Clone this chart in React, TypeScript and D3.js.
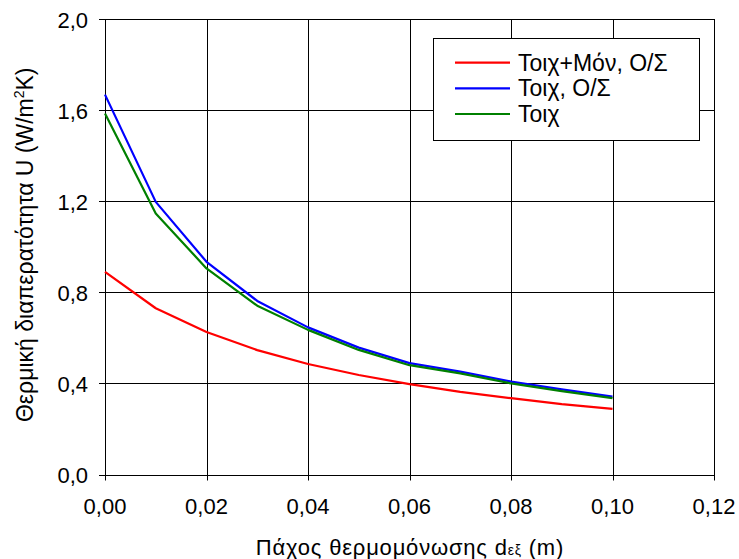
import React from "react";
import * as d3 from "d3";

const thickness = [0, 0.01, 0.02, 0.03, 0.04, 0.05, 0.06, 0.07, 0.08, 0.09, 0.1];
const seriesNames = ["Τοιχ+Μόν, Ο/Σ", "Τοιχ, Ο/Σ", "Τοιχ"];
const seriesColors = ["#ff0000", "#0000ff", "#008000"];
const uWallSlab = [0.89, 0.73, 0.626, 0.546, 0.485, 0.437, 0.397, 0.363, 0.335, 0.309, 0.288];
const uWallOS = [1.668, 1.197, 0.934, 0.762, 0.646, 0.557, 0.489, 0.452, 0.408, 0.374, 0.342];
const uWall = [1.585, 1.146, 0.905, 0.741, 0.635, 0.547, 0.48, 0.444, 0.4, 0.366, 0.335];
const xTicks = [0, 0.02, 0.04, 0.06, 0.08, 0.1, 0.12];
const yTicks = [0, 0.4, 0.8, 1.2, 1.6, 2.0];

const W = 739;
const H = 559;
const FONT = "'Liberation Sans', Arial, sans-serif";

export default function App() {
  const left = 105, right = 714, top = 19, bottom = 474.5;
  const x = d3.scaleLinear().domain([0, 0.12]).range([left, right]);
  const y = d3.scaleLinear().domain([0, 2.0]).range([bottom, top]);
  const seriesData = [uWallSlab, uWallOS, uWall];
  const line = d3
    .line<[number, number]>()
    .x((d) => x(d[0]))
    .y((d) => y(d[1]));
  const fx = (v: number) => d3.format(".2f")(v).replace(".", ",");
  const fy = (v: number) => d3.format(".1f")(v).replace(".", ",");

  const lgX = 433.5, lgY = 38.5, lgW = 266, lgH = 102;
  const rowY = [62.7, 88.3, 114];

  return (
    <div style={{ position: "absolute", left: 0, top: 0 }}>
      <svg width={W} height={H} style={{ display: "block", background: "#fff" }} fontFamily={FONT}>
        <rect x={0} y={0} width={W} height={H} fill="#fff" />
        {yTicks.map((t) => (
          <line key={"gy" + t} x1={left - 6} x2={right} y1={Math.round(y(t)) + 0.5} y2={Math.round(y(t)) + 0.5} stroke="#000" strokeWidth={1} />
        ))}
        {xTicks.map((t) => (
          <line key={"gx" + t} x1={Math.round(x(t)) + 0.5} x2={Math.round(x(t)) + 0.5} y1={top} y2={bottom + 6} stroke="#000" strokeWidth={1} />
        ))}
        {yTicks.map((t) => (
          <text key={"ly" + t} x={88} y={y(t) + 8.5} textAnchor="end" fontSize={22} fill="#000">
            {fy(t)}
          </text>
        ))}
        {xTicks.map((t) => (
          <text key={"lx" + t} x={x(t)} y={513.5} textAnchor="middle" fontSize={22} fill="#000">
            {fx(t)}
          </text>
        ))}
        {seriesData.map((s, i) => (
          <path
            key={"s" + i}
            d={line(thickness.map((t, j) => [t, s[j]] as [number, number])) || ""}
            fill="none"
            stroke={seriesColors[i]}
            strokeWidth={2.2}
            strokeLinejoin="round"
          />
        ))}
        <rect x={lgX} y={lgY} width={lgW} height={lgH} fill="#fff" stroke="#000" strokeWidth={1} />
        {seriesNames.map((n, i) => (
          <g key={"lg" + i}>
            <line x1={455} x2={510} y1={rowY[i]} y2={rowY[i]} stroke={seriesColors[i]} strokeWidth={2.2} />
            <text x={518} y={rowY[i] + 8} fontSize={23} fill="#000">
              {n}
            </text>
          </g>
        ))}
        <text x={410} y={555} textAnchor="middle" fontSize={22} fill="#000" letterSpacing={0.8}>
          Πάχος θερμομόνωσης d
          <tspan fontSize={14}>εξ</tspan>
          <tspan> (m)</tspan>
        </text>
        <text transform={`translate(33,${(top + bottom) / 2 - 2}) rotate(-90)`} textAnchor="middle" fontSize={23} fill="#000">
          Θερμική διαπερατότητα U (W/m
          <tspan fontSize={14} dy={-9}>2</tspan>
          <tspan dy={9}>K)</tspan>
        </text>
      </svg>
    </div>
  );
}
